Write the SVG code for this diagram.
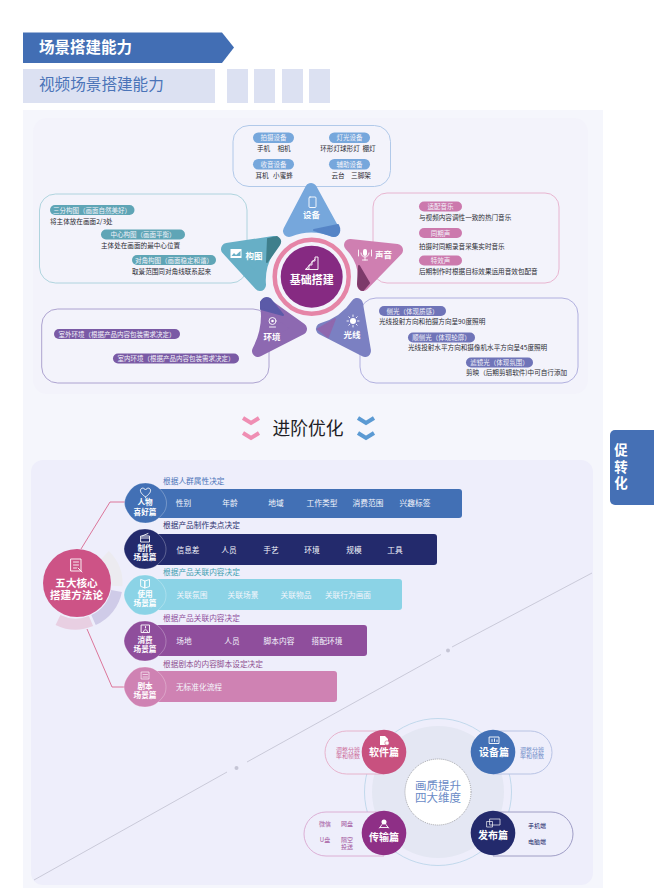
<svg xmlns="http://www.w3.org/2000/svg" width="654" height="888" viewBox="0 0 654 888">
<style>
text{font-family:"Noto Sans CJK SC","Noto Sans",sans-serif}
.w{fill:#fff}
.b{font-weight:700}
.m{text-anchor:middle}
.d{font-size:6.6px;fill:#2b2b33}
.p{font-size:6.5px;fill:#f3f3fa;text-anchor:middle}
.t{font-size:8.5px;font-weight:700;fill:#fff;text-anchor:middle}
.bt{font-size:7.7px;fill:#f4f6fc;text-anchor:middle}
.lb{font-size:7.7px}
.bd{font-size:7.6px;font-weight:700;fill:#fff;text-anchor:middle}
.ic{fill:none;stroke:#fff;stroke-width:.9;stroke-linejoin:round;stroke-linecap:round}
.box{fill:none;stroke-width:.9}
.tri{stroke-width:12;stroke-linejoin:round}
.dk{stroke-width:2;stroke-linejoin:round}
.mc{font-size:10px;font-weight:700;fill:#fff;text-anchor:middle}
.sm{font-size:6px;text-anchor:middle}
.sq{fill:#dce1f2}
.ch{fill:none;stroke-width:4}
</style>
<defs>
<path id="blob" d="M0 -20C8 -20 13 -16 17 -11C20 -7 21 -3 21 0C21 4 20 8 17 11C13 16 8 20 0 20C-8 20 -12 17 -16 12C-19 8 -21 4 -21 0C-21 -4 -19 -8 -16 -12C-12 -17 -8 -20 0 -20Z" stroke="#fff" stroke-opacity=".45" stroke-width=".6"/>
</defs>
<rect width="654" height="888" fill="#fff"/>
<g id="header">
<polygon points="23,32.500 222,32.500 234,47.500 222,63 23,63" fill="#426eb4"/>
<text x="39" y="52.500" font-size="15.500" class="w b">场景搭建能力</text>
<rect x="23" y="69" width="192" height="34" class="sq"/>
<text x="39" y="90" font-size="15.600" fill="#4b74b8">视频场景搭建能力</text>
<rect x="227" y="69" width="21" height="34" class="sq"/>
<rect x="254" y="69" width="21" height="34" class="sq"/>
<rect x="282" y="69" width="21" height="34" class="sq"/>
<rect x="309" y="69" width="21" height="34" class="sq"/>
</g>
<rect x="23" y="110" width="580" height="778" fill="#f5f6fc"/>
<rect x="33" y="118" width="555" height="276" rx="14" fill="#f3f3fb"/>
<rect x="31" y="460" width="562" height="425" rx="12" fill="#eeeefb"/>
<g id="side-tab">
<path d="M654 430H615a5 5 0 0 0-5 5V500a5 5 0 0 0 5 5H654Z" fill="#4570b5"/>
<text font-size="13.500" class="w b m"><tspan x="621" y="455">促</tspan><tspan x="621" y="472">转</tspan><tspan x="621" y="488">化</tspan></text>
</g>
<g id="panel-device">
<rect x="233" y="125.500" width="157.500" height="61" rx="16" class="box" stroke="#a9c4e6"/>
<rect x="253" y="132.500" width="41" height="10.500" rx="5.200" fill="#76a7dc"/><text x="273.500" y="140.300" class="p">拍摄设备</text>
<text class="d m"><tspan x="263.500" y="151">手机</tspan><tspan x="284" y="151">相机</tspan></text>
<rect x="253" y="159" width="41" height="10.500" rx="5.200" fill="#76a7dc"/><text x="273.500" y="166.800" class="p">收音设备</text>
<text class="d m"><tspan x="262" y="177.500">耳机</tspan><tspan x="283" y="177.500">小蜜蜂</tspan></text>
<rect x="329" y="132.500" width="41" height="10.500" rx="5.200" fill="#76a7dc"/><text x="349.500" y="140.300" class="p">灯光设备</text>
<text class="d m"><tspan x="340" y="151">环形灯球形灯</tspan><tspan x="369" y="151">棚灯</tspan></text>
<rect x="329" y="159" width="41" height="10.500" rx="5.200" fill="#76a7dc"/><text x="349.500" y="166.800" class="p">辅助设备</text>
<text class="d m"><tspan x="338" y="177.500">云台</tspan><tspan x="361" y="177.500">三脚架</tspan></text>
</g>
<g id="panel-composition">
<rect x="39.500" y="194" width="207.500" height="89" rx="16" class="box" stroke="#a7d0da"/>
<rect x="50" y="205" width="84.500" height="10" rx="5" fill="#5fa5b6"/><text x="92" y="212.500" class="p">三分构图（画面自然美好）</text>
<text x="50" y="223.500" class="d">将主体放在画面2/3处</text>
<rect x="101" y="229.500" width="84" height="10" rx="5" fill="#5fa5b6"/><text x="143" y="237" class="p">中心构图（画面平衡）</text>
<text x="101" y="248" class="d">主体处在画面的最中心位置</text>
<rect x="132" y="255" width="84" height="10" rx="5" fill="#5fa5b6"/><text x="174" y="262.500" class="p">对角构图（画面稳定和谐）</text>
<text x="132" y="273.500" class="d">取景范围同对角线联系起来</text>
</g>
<g id="panel-environment">
<rect x="41.700" y="309" width="227.300" height="74" rx="16" class="box" stroke="#a59acb"/>
<rect x="54" y="329" width="126" height="10" rx="5" fill="#7a5aa5"/><text x="117" y="336.500" class="p">室外环境（根据产品内容包装需求决定）</text>
<rect x="113" y="353.500" width="126" height="10" rx="5" fill="#7a5aa5"/><text x="176" y="361" class="p">室内环境（根据产品内容包装需求决定）</text>
</g>
<g id="panel-sound">
<rect x="373" y="193" width="186" height="90" rx="14" class="box" stroke="#e6aecb"/>
<rect x="419" y="201.500" width="43" height="10" rx="5" fill="#cc79ad"/><text x="440.500" y="209" class="p">适配音乐</text>
<text x="419" y="219.500" class="d">与视频内容调性一致的热门音乐</text>
<rect x="419" y="228" width="43" height="10" rx="5" fill="#cc79ad"/><text x="440.500" y="235.500" class="p">同期声</text>
<text x="419" y="248.500" class="d">拍摄时同期录音采集实时音乐</text>
<rect x="419" y="255.500" width="43" height="10" rx="5" fill="#cc79ad"/><text x="440.500" y="263" class="p">特效声</text>
<text x="419" y="273.500" class="d">后期制作时根据目标效果运用音效包配音</text>
</g>
<g id="panel-light">
<rect x="360" y="298" width="218" height="85" rx="16" class="box" stroke="#a9a8db"/>
<rect x="379" y="306" width="67" height="10" rx="5" fill="#6f74b8"/><text x="412.500" y="313.500" class="p">侧光（体现质感）</text>
<text x="379" y="323.500" class="d">光线投射方向和拍摄方向呈90度照明</text>
<rect x="408" y="332.500" width="67" height="10" rx="5" fill="#6f74b8"/><text x="441.500" y="340" class="p">顺侧光（体现轮廓）</text>
<text x="408" y="349.500" class="d">光线投射水平方向和摄像机水平方向呈45度照明</text>
<rect x="466" y="357.500" width="67" height="10" rx="5" fill="#6f74b8"/><text x="499.500" y="365" class="p">滤镜光（体现氛围）</text>
<text x="466" y="374.500" class="d">剪映（后期剪辑软件)中可自行添加</text>
</g>
<g id="node-shebei">
<path class="tri" d="M311 189L334 231Q311 222 289 231Z" fill="#76a7dc" stroke="#76a7dc"/>
<path class="dk" d="M314 230L338 225Q341 231 337 235Q334 237 330 235Z" fill="#5584c6" stroke="#5584c6"/>
<rect x="309" y="197" width="7" height="10.500" rx="1" class="ic"/>
<text x="311.500" y="218" class="t">设备</text>
</g>
<g id="node-shengyin">
<path class="tri" d="M350 245L397 250L363 285Q367 262 350 245Z" fill="#cf7fb1" stroke="#cf7fb1"/>
<path class="dk" d="M359 266L369 283L363 290Q359 290 358 284Z" fill="#7d3a6a" stroke="#7d3a6a"/>
<rect x="363" y="249" width="4" height="7" rx="2" class="w"/>
<path class="ic" d="M361 253a4 4 0 0 0 8 0M365 257V260M362.500 260H367.500M358.500 250V256M371.500 250V256"/>
<text x="383.500" y="257.500" class="t">声音</text>
</g>
<g id="node-guangxian">
<path class="tri" d="M357 304L365 351L322 329Q345 322 357 304Z" fill="#7b80c2" stroke="#7b80c2"/>
<path class="dk" d="M318 329L335 319L328 337Z" fill="#8f68ae" stroke="#8f68ae"/>
<circle cx="353" cy="321" r="3" class="w"/>
<path class="ic" d="M353 315V316.500M353 325.500V327M347 321H348.500M357.500 321H359M348.800 316.800L349.800 317.800M356.200 324.200L357.200 325.200M357.200 316.800L356.200 317.800M349.800 324.200L348.800 325.200"/>
<text x="352" y="338" class="t">光线</text>
</g>
<g id="node-huanjing">
<path class="tri" d="M266 304L301 329L258 351Q270 328 266 304Z" fill="#8d69b1" stroke="#8d69b1"/>
<path class="dk" d="M261 302Q265 296 270 299L283 315L261 309Z" fill="#5b5aa8" stroke="#5b5aa8"/>
<circle cx="272.500" cy="321" r="3.500" class="ic"/><circle cx="272.500" cy="321" r="1.300" class="w"/>
<path class="ic" d="M269.500 327H275.500"/>
<text x="272" y="340" class="t">环境</text>
</g>
<g id="node-goutu">
<path class="tri" d="M274 242L227 249L260 285Q258 262 274 242Z" fill="#67afc6" stroke="#67afc6"/>
<path class="dk" d="M268 239L277 237Q282 240 279 245L267 262Z" fill="#3f7f8c" stroke="#3f7f8c"/>
<rect x="230.500" y="249" width="11" height="9" class="w"/>
<path d="M231.500 256L234 253L236 255L240.500 251V256Z" fill="#67afc6"/>
<text x="254" y="258.500" class="t">构图</text>
</g>
<g id="node-center">
<circle cx="311.700" cy="276.700" r="37" fill="none" stroke="#e585a7" stroke-width="4.500"/>
<circle cx="311.700" cy="276.700" r="31" fill="#862a82"/>
<path class="ic" d="M306 268H309V264H312V260H315V256H318V268.500H306ZM306 268L315 258" transform="translate(0 1)"/>
<text x="311.700" y="283.500" font-size="11" class="w b m">基础搭建</text>
</g>
<g id="heading">
<path class="ch" stroke="#ef8eb3" d="M243 418L251 423L259 418M243 433L251 438L259 433"/>
<path class="ch" stroke="#5b9ad3" d="M358 418L366 423L374 418M358 433L366 438L374 433"/>
<text x="308" y="435" font-size="17.800" class="m" fill="#1d1d25">进阶优化</text>
</g>
<g id="connectors">
<path d="M81 549L110 502H125M87 629L112 687H125" fill="none" stroke="#d9688f" stroke-width=".9"/>
<path d="M34 880L227 772M247 762L441 654.500M452 647L592 573" fill="none" stroke="#c5c5d5" stroke-width=".9"/>
<circle cx="236.500" cy="768" r="2" fill="#c5c5d5"/>
<circle cx="448" cy="650.600" r="2" fill="#c5c5d5"/>
</g>
<g id="node-method">
<path d="M105 555A40 40 0 0 1 117 586" fill="none" stroke="#ecebf0" stroke-width="11"/>
<path d="M116.500 591A40 40 0 0 1 93.500 620" fill="none" stroke="#cfcbe8" stroke-width="11"/>
<path d="M91 621A40 40 0 0 1 58 620" fill="none" stroke="#e8cfe2" stroke-width="11"/>
<circle cx="77" cy="583" r="34" fill="#cd5386"/>
<path class="ic" d="M71 559H81V571H71ZM73.500 562H78.500M73.500 565H78.500M73.500 568H76.500M78 568L82 572"/>
<text font-size="10.600" class="w b m"><tspan x="76.500" y="586.500">五大核心</tspan><tspan x="76.500" y="599">搭建方法论</tspan></text>
</g>
<g id="node-renwu">
<text x="163" y="484" class="lb" fill="#4b74b8">根据人群属性决定</text>
<rect x="146" y="489" width="316" height="29" rx="3" fill="#4270b5"/>
<use href="#blob" x="145.500" y="503" fill="#4270b5"/>
<path class="ic" d="M145.500 497C142 494.500 140 492 140.500 490C141 487.500 144 487.500 145.500 490C147 487.500 150 487.500 150.500 490C151 492 149 494.500 145.500 497Z"/>
<text class="bd"><tspan x="145" y="505">人物</tspan><tspan x="145" y="514.500">喜好篇</tspan></text>
<text x="183.500" y="506" class="bt">性别</text><text x="230" y="506" class="bt">年龄</text><text x="276" y="506" class="bt">地域</text><text x="322" y="506" class="bt">工作类型</text><text x="368" y="506" class="bt">消费范围</text><text x="415" y="506" class="bt">兴趣标签</text>
</g>
<g id="node-zhizuo">
<text x="163" y="528" class="lb" fill="#2a2f6e">根据产品制作卖点决定</text>
<rect x="146" y="534" width="291" height="31" rx="3" fill="#232a6c"/>
<use href="#blob" x="145" y="549" fill="#232a6c"/>
<path class="ic" d="M141 536H149.500V542H141ZM141 538H149.500M142 536L148 533.500"/>
<text class="bd"><tspan x="145" y="550.500">制作</tspan><tspan x="145" y="559.500">场景篇</tspan></text>
<text x="188" y="553" class="bt">信息差</text><text x="229" y="553" class="bt">人员</text><text x="271" y="553" class="bt">手艺</text><text x="312" y="553" class="bt">环境</text><text x="354" y="553" class="bt">规模</text><text x="395" y="553" class="bt">工具</text>
</g>
<g id="node-shiyong">
<text x="163" y="575" class="lb" fill="#3f9fb0">根据产品关联内容决定</text>
<rect x="146" y="579" width="256" height="31" rx="3" fill="#8bd3e6"/>
<use href="#blob" x="145" y="595" fill="#8bd3e6"/>
<path class="ic" d="M141 579.500L145 581V588L141 586.500ZM145 581L149.500 579.500V586.500L145 588Z"/>
<text class="bd"><tspan x="145" y="597">使用</tspan><tspan x="145" y="606">场景篇</tspan></text>
<text x="192" y="598" class="bt">关联氛围</text><text x="243" y="598" class="bt">关联场景</text><text x="296" y="598" class="bt">关联物品</text><text x="348" y="598" class="bt">关联行为画面</text>
</g>
<g id="node-xiaofei">
<text x="163" y="621" class="lb" fill="#8f4e9c">根据产品关联内容决定</text>
<rect x="146" y="625" width="221" height="31" rx="3" fill="#8f4e9c"/>
<use href="#blob" x="145" y="641" fill="#8f4e9c"/>
<path class="ic" d="M141.500 625H149.500V632.500H141.500ZM143.500 631.500C144 629 147 629 147.500 631.500M145.500 626.500V628"/>
<text class="bd"><tspan x="145" y="643">消费</tspan><tspan x="145" y="652">场景篇</tspan></text>
<text x="184" y="644" class="bt">场地</text><text x="232" y="644" class="bt">人员</text><text x="279" y="644" class="bt">脚本内容</text><text x="327" y="644" class="bt">搭配环境</text>
</g>
<g id="node-jiaoben">
<text x="163" y="667" class="lb" fill="#8f4e8f">根据剧本的内容脚本设定决定</text>
<rect x="146" y="671" width="191" height="31" rx="3" fill="#cf82b3"/>
<use href="#blob" x="145" y="687" fill="#cf82b3"/>
<path class="ic" d="M141.500 672H149V679H141.500ZM143 674.500H147.500M143 677H147.500" stroke-opacity=".7"/>
<text class="bd"><tspan x="145" y="689">剧本</tspan><tspan x="145" y="698">场景篇</tspan></text>
<text x="199" y="690" class="bt">无标准化流程</text>
</g>
<g id="node-quality">
<circle cx="438" cy="792" r="73.500" fill="none" stroke="#bcd6ea" stroke-width=".9"/>
<circle cx="438" cy="792" r="66" fill="#e4e7f3"/>
<circle cx="438" cy="792" r="33" fill="#fff" stroke="#777" stroke-width=".6" stroke-dasharray="1 1"/>
<text font-size="11.500" class="m" fill="#6a8ac6"><tspan x="438" y="789.500">画质提升</tspan><tspan x="438" y="801.500">四大维度</tspan></text>
</g>
<g id="node-software">
<path d="M384 731H346.500a21.500 21.500 0 0 0 0 43H384" fill="#eeeefb" stroke="#e5a3c0" stroke-width=".8"/>
<circle cx="384" cy="752" r="22.300" fill="#c8517f"/>
<path d="M380 736H385L388 739V745H380Z" class="w"/>
<circle cx="387" cy="743" r="2.200" class="w" stroke="#c8517f" stroke-width=".6"/>
<text x="384" y="756" class="mc">软件篇</text>
<text class="sm" fill="#cc6a98"><tspan x="348" y="751.500">调整分辨</tspan><tspan x="348" y="758">率和帧数</tspan></text>
</g>
<g id="node-equipment">
<path d="M493 731H530.500a21.500 21.500 0 0 1 0 43H493" fill="#eeeefb" stroke="#a9b8de" stroke-width=".8"/>
<circle cx="493" cy="752" r="22.300" fill="#4270b5"/>
<path class="ic" d="M489.500 737H499V743.500H489.500ZM492 741.500V739.500M494.500 741.500V739M497 741.500V740"/>
<text x="494" y="756" class="mc">设备篇</text>
<text class="sm" fill="#6e8cc8"><tspan x="532" y="751.500">调整分辨</tspan><tspan x="532" y="758">率和帧数</tspan></text>
</g>
<g id="node-transfer">
<path d="M384 812H326a22 22 0 0 0 0 44H384" fill="#eeeefb" stroke="#d7a0cc" stroke-width=".8"/>
<circle cx="384" cy="833" r="22.300" fill="#8e2f86"/>
<circle cx="384" cy="822" r="2.500" class="w"/>
<path class="ic" d="M379.500 828L382 824.500M388.500 828L386 824.500M380 827.500H388"/>
<text x="384" y="841" class="mc">传输篇</text>
<g class="sm" fill="#a0509a"><text x="325" y="826">微信</text><text x="347" y="826">网盘</text><text x="325" y="841.500">U盘</text><text><tspan x="347" y="841.500">隔空</tspan><tspan x="347" y="848.500">投送</tspan></text></g>
</g>
<g id="node-publish">
<path d="M493 812H551a22 22 0 0 1 0 44H493" fill="#eeeefb" stroke="#8a88b8" stroke-width=".8"/>
<circle cx="493" cy="833" r="22.300" fill="#232a6c"/>
<path class="ic" d="M490 819H500V825H490ZM487 821.500H492.500V827H487Z" stroke-opacity=".75"/>
<text x="493" y="838.500" class="mc">发布篇</text>
<text x="537" y="828" class="sm" fill="#232a6c">手机端</text><text x="537" y="844" class="sm" fill="#232a6c">电脑端</text>
</g>
</svg>
